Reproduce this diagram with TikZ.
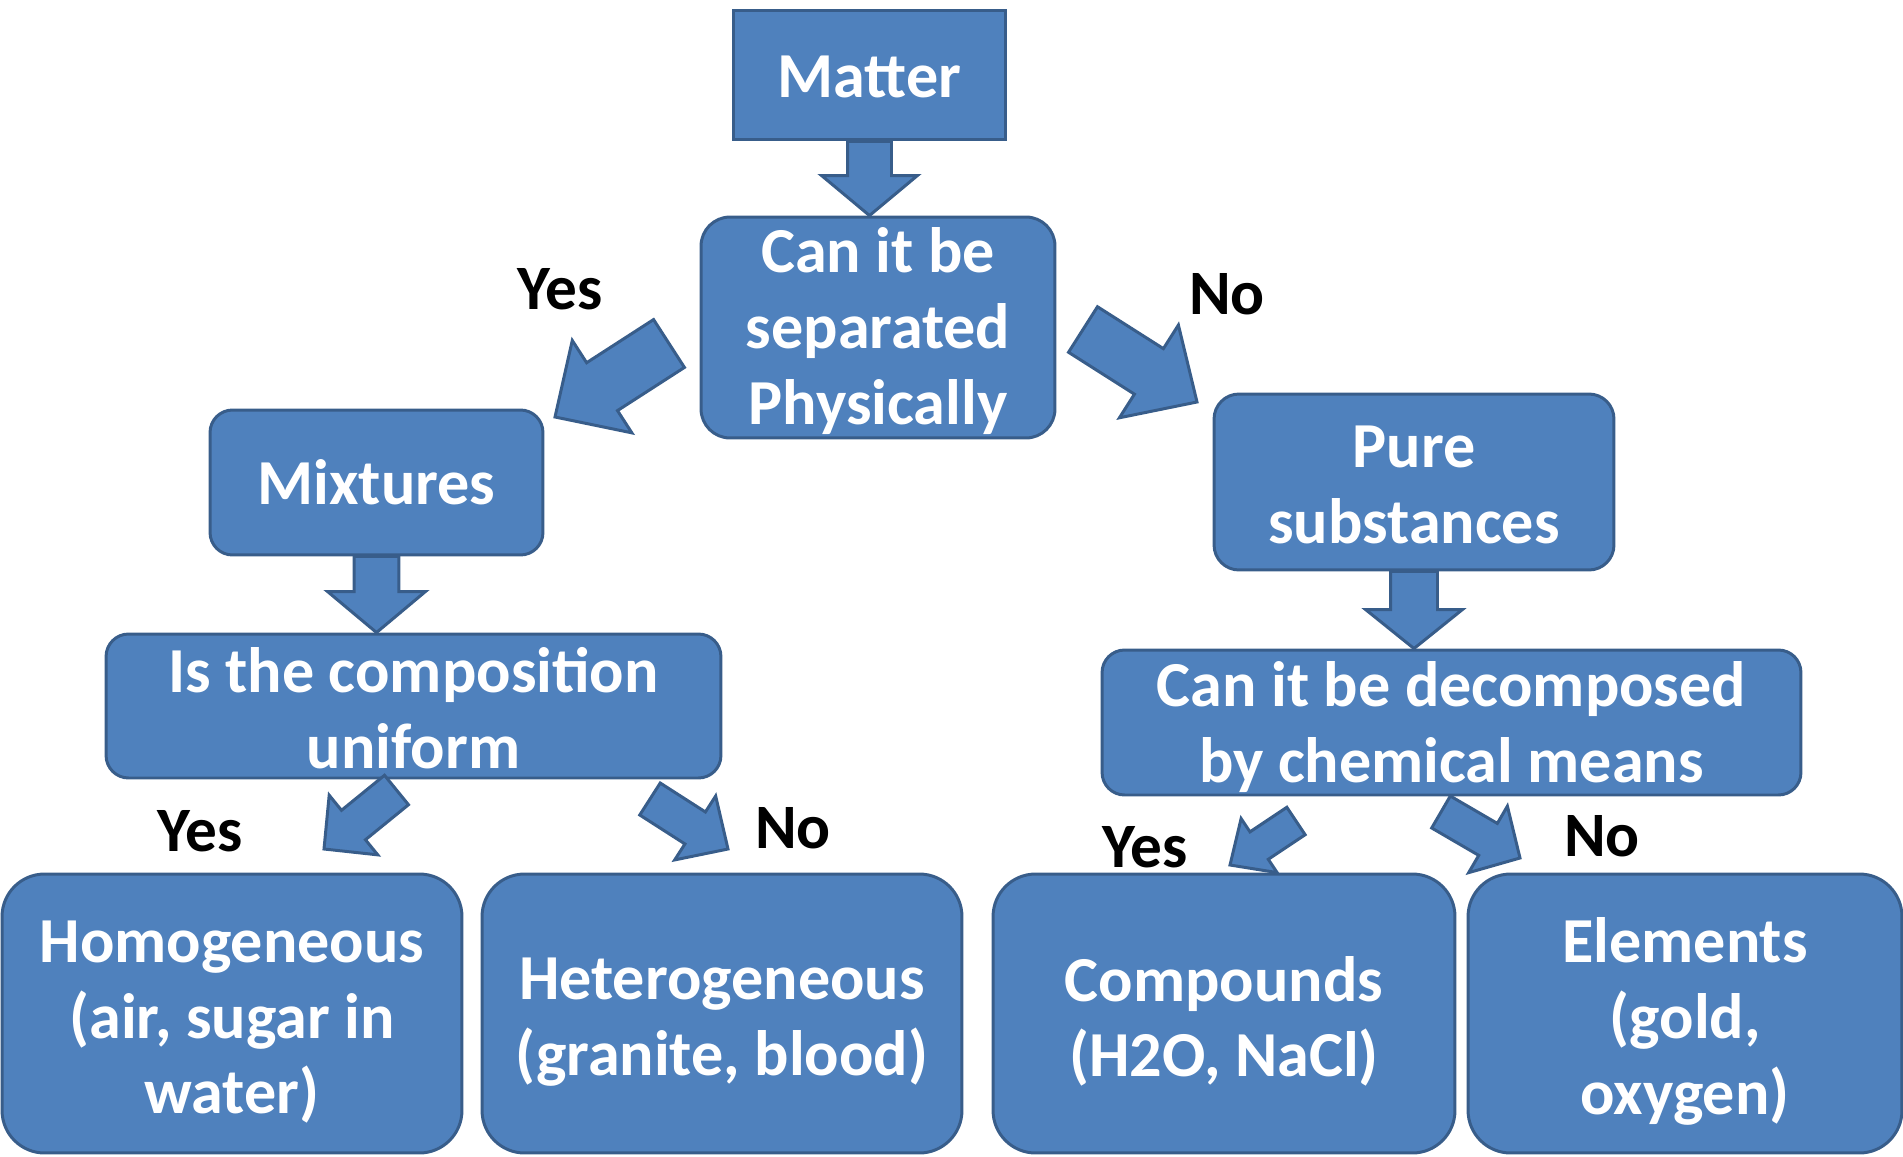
\documentclass[tikz,border=0pt]{standalone}
\usepackage{fontspec}
\setmainfont{Carlito}
\usetikzlibrary{calc}
\definecolor{boxfill}{HTML}{4F81BD}
\definecolor{boxline}{HTML}{385D8A}
\newcommand{\padtop}[1]{\rule{0pt}{#1}}
\newcommand{\blockarrow}[5]{%
  \coordinate (ba-h) at ($(#2)!{#5*0.02cm}!(#1)$);
  \draw[arrowbody] ($(#1)!{#3*0.01cm}!90:(#2)$) -- ($(ba-h)!{#3*0.01cm}!90:(#2)$)
    -- ($(ba-h)!{#4*0.01cm}!90:(#2)$) -- (#2) -- ($(ba-h)!{#4*0.01cm}!-90:(#2)$)
    -- ($(ba-h)!{#3*0.01cm}!-90:(#2)$) -- ($(#1)!{#3*0.01cm}!-90:(#2)$) -- cycle;
}

\begin{document}
\begin{tikzpicture}[x=0.02cm, y=-0.02cm,
  box/.style={draw=boxline, fill=boxfill, line width=1.7pt, text=white, align=center,
    inner sep=0pt, font=\bfseries\fontsize{36.5}{43.2}\selectfont},
  answer/.style={text=black, inner sep=0pt, font=\bfseries\fontsize{36}{43.2}\selectfont},
  arrowbody/.style={draw=boxline, fill=boxfill, line width=1.7pt, line join=miter}]
\useasboundingbox (0,0) rectangle (1903,1156);
\node[box, minimum width=5.46cm, minimum height=2.6cm] (matter) at (869.5,75) {\padtop{26pt}Matter};
\node[box, rounded corners=0.58cm, minimum width=7.08cm, minimum height=4.42cm] (sep) at (878,327.5) {\padtop{29.5pt}Can it be\\separated\\Physically};
\node[box, rounded corners=0.45cm, minimum width=6.66cm, minimum height=2.9cm] (mix) at (376.5,482.5) {Mixtures};
\node[box, rounded corners=0.45cm, minimum width=12.3cm, minimum height=2.88cm] (uni) at (413.5,706) {\padtop{28.5pt}Is the composition\\uniform};
\node[box, rounded corners=0.5cm, minimum width=8cm, minimum height=3.52cm] (pure) at (1414,482) {\padtop{27.5pt}Pure\\substances};
\node[box, rounded corners=0.45cm, minimum width=13.98cm, minimum height=2.9cm] (dec) at (1451.5,722.5) {\padtop{31pt}Can it be decomposed\\by chemical means};
\node[box, rounded corners=0.85cm, minimum width=9.2cm, minimum height=5.58cm] (hom) at (232,1013.5) {\padtop{33.5pt}Homogeneous\\(air, sugar in\\water)};
\node[box, rounded corners=0.85cm, minimum width=9.6cm, minimum height=5.58cm] (het) at (722,1013.5) {\padtop{33.5pt}Heterogeneous\\(granite, blood)};
\node[box, rounded corners=0.85cm, minimum width=9.24cm, minimum height=5.58cm] (comp) at (1224,1013.5) {\padtop{34.5pt}Compounds\\(H2O, NaCl)};
\node[box, rounded corners=0.85cm, minimum width=8.68cm, minimum height=5.58cm] (elem) at (1685,1013.5) {\padtop{34.5pt}Elements\\(gold,\\oxygen)};
\node[answer] (yes1) at (560,289) {Yes};
\node[answer] (no1) at (1227,294) {No};
\node[answer] (yes2) at (200,831) {Yes};
\node[answer] (no2) at (793,828) {No};
\node[answer] (yes3) at (1145,847) {Yes};
\node[answer] (no3) at (1602,836) {No};
\coordinate (a1e) at (matter.south |- sep.north);
\coordinate (a2s) at (669,343.5);
\coordinate (a2e) at (555,417);
\coordinate (a3s) at (1083,329.5);
\coordinate (a3e) at (1197,402);
\coordinate (a4e) at (mix.south |- uni.north);
\coordinate (a5s) at (396.5,790);
\coordinate (a5e) at (324,849);
\coordinate (a6s) at (650,799);
\coordinate (a6e) at (728,849);
\coordinate (a7e) at (pure.south |- dec.north);
\coordinate (a8s) at (1296,821);
\coordinate (a8e) at (1230,865);
\coordinate (a9s) at (1441,812);
\coordinate (a9e) at (1520,858);
\blockarrow{matter.south}{a1e}{44}{96}{40}
\blockarrow{a2s}{a2e}{57}{110}{56}
\blockarrow{a3s}{a3e}{54}{110}{57}
\blockarrow{mix.south}{a4e}{45}{98}{41}
\blockarrow{a5s}{a5e}{38}{77}{38}
\blockarrow{a6s}{a6e}{38}{76}{39}
\blockarrow{pure.south}{a7e}{47}{97}{39}
\blockarrow{a8s}{a8e}{33}{65}{35}
\blockarrow{a9s}{a9e}{37}{77}{37}
\end{tikzpicture}
\end{document}
